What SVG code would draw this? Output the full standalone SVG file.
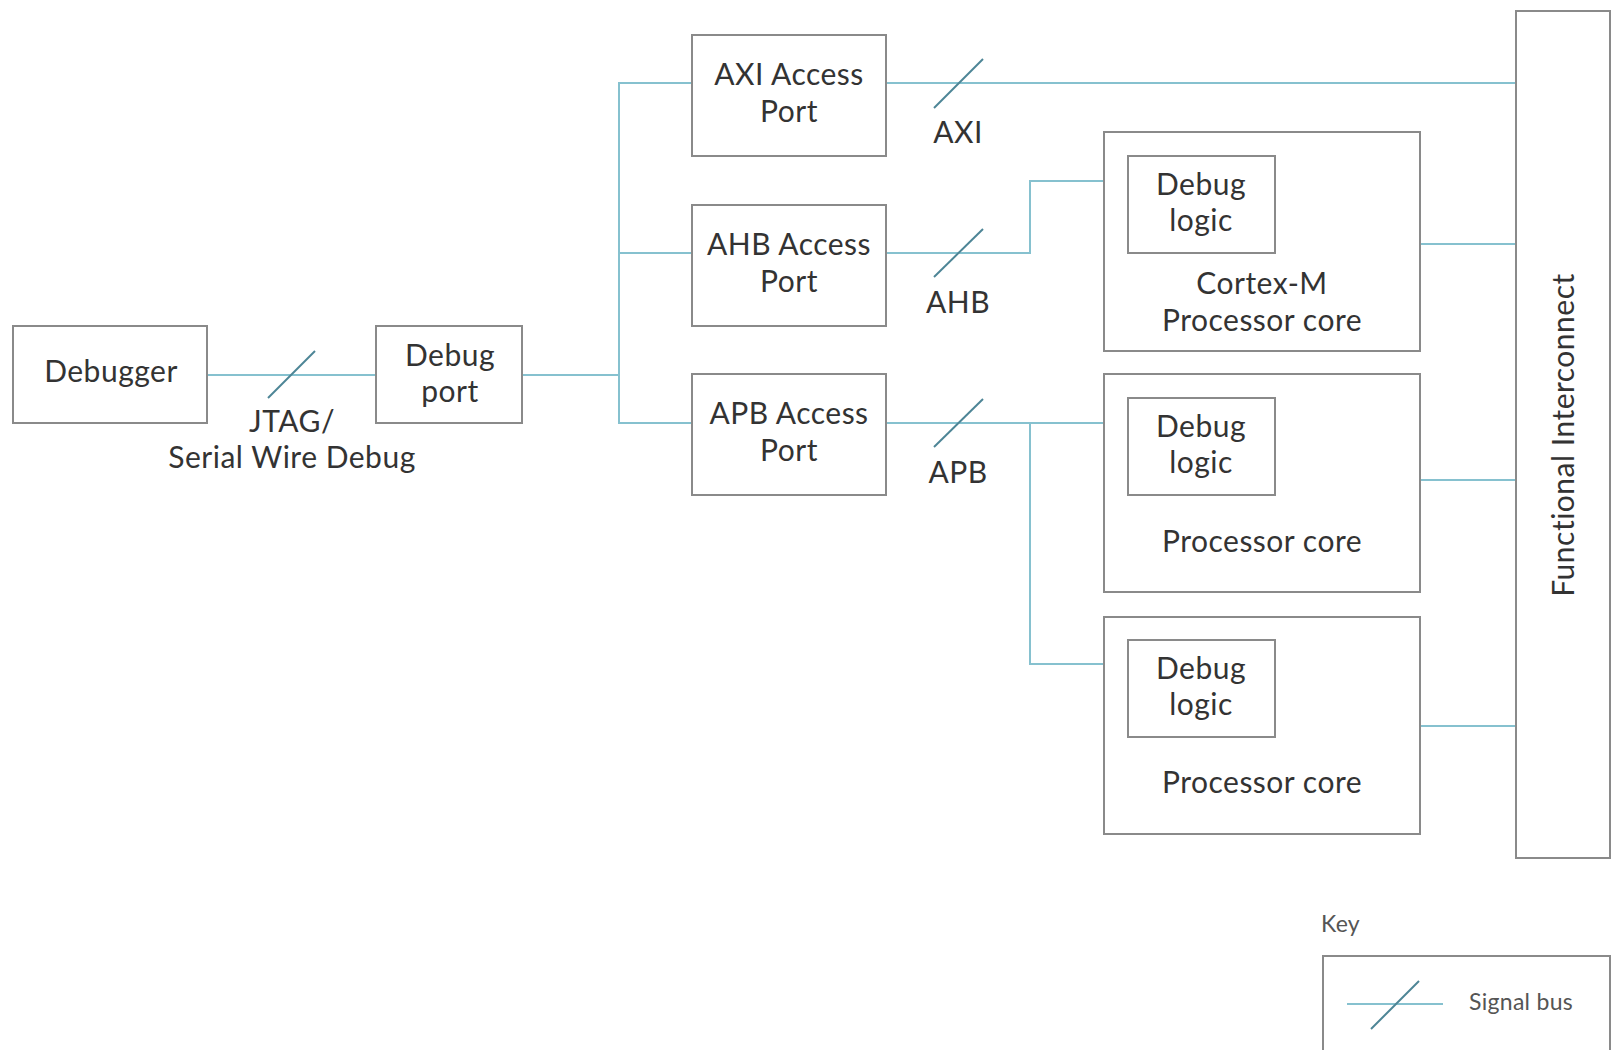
<svg xmlns="http://www.w3.org/2000/svg" width="1612" height="1050" viewBox="0 0 1612 1050">
<style>
.box{fill:#fff;stroke:#8a8a8a;stroke-width:2}
.t{font-family:Lato,"Liberation Sans",sans-serif;font-size:30px;letter-spacing:0.5px;fill:#333;text-anchor:middle}
.w{fill:none;stroke:#86c1cf;stroke-width:2}
.s{stroke:#4d8596;stroke-width:2}
.k{font-family:Lato,"Liberation Sans",sans-serif;font-size:23px;letter-spacing:0.3px;fill:#555}
</style>
<rect width="1612" height="1050" fill="#fff"/>
<g id="connectors">
<path class="w" d="M207 375H376"/>
<line class="s" x1="268" y1="398" x2="315" y2="351"/>
<path class="w" d="M522 375H619"/>
<path class="w" d="M692 83H619V423H692M619 253H692"/>
<path class="w" d="M886 83H1516"/>
<line class="s" x1="934" y1="108" x2="983" y2="59"/>
<path class="w" d="M886 253H1030V181H1104"/>
<line class="s" x1="934" y1="277" x2="983" y2="229"/>
<path class="w" d="M886 423H1104M1030 423V664H1104"/>
<line class="s" x1="934" y1="447" x2="983" y2="399"/>
<path class="w" d="M1420 244H1516M1420 480H1516M1420 726H1516"/>
</g>
<g id="debugger"><rect class="box" x="13" y="326" width="194" height="97"/><text class="t" x="111" y="382">Debugger</text></g>
<g id="jtag-label"><text class="t" x="292" y="432">JTAG/</text><text class="t" x="292" y="468">Serial Wire Debug</text></g>
<g id="debug-port"><rect class="box" x="376" y="326" width="146" height="97"/><text class="t" x="450" y="366">Debug</text><text class="t" x="450" y="402">port</text></g>
<g id="axi-ap"><rect class="box" x="692" y="35" width="194" height="121"/><text class="t" x="789" y="85">AXI Access</text><text class="t" x="789" y="122">Port</text></g>
<g id="ahb-ap"><rect class="box" x="692" y="205" width="194" height="121"/><text class="t" x="789" y="255">AHB Access</text><text class="t" x="789" y="292">Port</text></g>
<g id="apb-ap"><rect class="box" x="692" y="374" width="194" height="121"/><text class="t" x="789" y="424">APB Access</text><text class="t" x="789" y="461">Port</text></g>
<g id="bus-labels"><text class="t" x="958" y="143">AXI</text><text class="t" x="958" y="313">AHB</text><text class="t" x="958" y="483">APB</text></g>
<g id="core1"><rect class="box" x="1104" y="132" width="316" height="219"/><rect class="box" x="1128" y="156" width="147" height="97"/><text class="t" x="1201" y="195">Debug</text><text class="t" x="1201" y="231">logic</text><text class="t" x="1262" y="294">Cortex-M</text><text class="t" x="1262" y="331">Processor core</text></g>
<g id="core2"><rect class="box" x="1104" y="374" width="316" height="218"/><rect class="box" x="1128" y="398" width="147" height="97"/><text class="t" x="1201" y="437">Debug</text><text class="t" x="1201" y="473">logic</text><text class="t" x="1262" y="552">Processor core</text></g>
<g id="core3"><rect class="box" x="1104" y="617" width="316" height="217"/><rect class="box" x="1128" y="640" width="147" height="97"/><text class="t" x="1201" y="679">Debug</text><text class="t" x="1201" y="715">logic</text><text class="t" x="1262" y="793">Processor core</text></g>
<g id="functional-interconnect"><rect class="box" x="1516" y="11" width="94" height="847"/><text class="t" transform="translate(1574 435) rotate(-90)">Functional Interconnect</text></g>
<g id="key"><text class="k" x="1321" y="932">Key</text><rect class="box" x="1323" y="956" width="287" height="120"/><line x1="1347" y1="1004" x2="1443" y2="1004" stroke="#86c1cf" stroke-width="2"/><line class="s" x1="1371" y1="1029" x2="1419" y2="981"/><text class="k" x="1469" y="1010">Signal bus</text></g>
</svg>
